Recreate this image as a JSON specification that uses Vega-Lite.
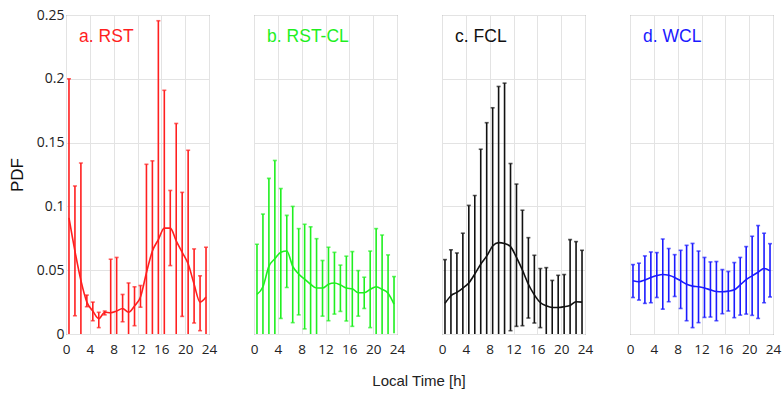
{
  "$schema": "https://vega.github.io/schema/vega-lite/v6.json",
  "padding": {"left": 8, "top": 8, "right": 5, "bottom": 5},
  "background": "white",
  "bounds": "flush",
  "data": {"values": [
    {"p":"a","lab":"a. RST","h":0.5,"m":0.091,"lo":0,"hi":0.2},
    {"p":"a","lab":"a. RST","h":1.5,"m":0.065,"lo":0.0143,"hi":0.116},
    {"p":"a","lab":"a. RST","h":2.5,"m":0.042,"lo":0,"hi":0.134},
    {"p":"a","lab":"a. RST","h":3.5,"m":0.025,"lo":0.0214,"hi":0.0305},
    {"p":"a","lab":"a. RST","h":4.5,"m":0.018,"lo":0.0104,"hi":0.025},
    {"p":"a","lab":"a. RST","h":5.5,"m":0.012,"lo":0.005,"hi":0.017},
    {"p":"a","lab":"a. RST","h":6.5,"m":0.017,"lo":0.015,"hi":0.018},
    {"p":"a","lab":"a. RST","h":7.5,"m":0.0167,"lo":0,"hi":0.0586},
    {"p":"a","lab":"a. RST","h":8.5,"m":0.018,"lo":0,"hi":0.06},
    {"p":"a","lab":"a. RST","h":9.5,"m":0.02,"lo":0.0096,"hi":0.031},
    {"p":"a","lab":"a. RST","h":10.5,"m":0.017,"lo":0,"hi":0.04},
    {"p":"a","lab":"a. RST","h":11.5,"m":0.022,"lo":0.0065,"hi":0.037},
    {"p":"a","lab":"a. RST","h":12.5,"m":0.029,"lo":0.021,"hi":0.038},
    {"p":"a","lab":"a. RST","h":13.5,"m":0.048,"lo":0,"hi":0.133},
    {"p":"a","lab":"a. RST","h":14.5,"m":0.065,"lo":0,"hi":0.1357},
    {"p":"a","lab":"a. RST","h":15.5,"m":0.074,"lo":0,"hi":0.2455},
    {"p":"a","lab":"a. RST","h":16.5,"m":0.083,"lo":0,"hi":0.191},
    {"p":"a","lab":"a. RST","h":17.5,"m":0.083,"lo":0.0536,"hi":0.1125},
    {"p":"a","lab":"a. RST","h":18.5,"m":0.073,"lo":0,"hi":0.165},
    {"p":"a","lab":"a. RST","h":19.5,"m":0.064,"lo":0.0138,"hi":0.111},
    {"p":"a","lab":"a. RST","h":20.5,"m":0.055,"lo":0,"hi":0.144},
    {"p":"a","lab":"a. RST","h":21.5,"m":0.039,"lo":0.0086,"hi":0.0667},
    {"p":"a","lab":"a. RST","h":22.5,"m":0.025,"lo":0.0026,"hi":0.0456},
    {"p":"a","lab":"a. RST","h":23.5,"m":0.029,"lo":0,"hi":0.068},

    {"p":"b","lab":"b. RST-CL","h":0.5,"m":0.031,"lo":0,"hi":0.0703},
    {"p":"b","lab":"b. RST-CL","h":1.5,"m":0.037,"lo":0,"hi":0.094},
    {"p":"b","lab":"b. RST-CL","h":2.5,"m":0.053,"lo":0,"hi":0.122},
    {"p":"b","lab":"b. RST-CL","h":3.5,"m":0.059,"lo":0,"hi":0.136},
    {"p":"b","lab":"b. RST-CL","h":4.5,"m":0.064,"lo":0.0122,"hi":0.114},
    {"p":"b","lab":"b. RST-CL","h":5.5,"m":0.065,"lo":0.0365,"hi":0.093},
    {"p":"b","lab":"b. RST-CL","h":6.5,"m":0.053,"lo":0.0089,"hi":0.1},
    {"p":"b","lab":"b. RST-CL","h":7.5,"m":0.047,"lo":0.015,"hi":0.0826},
    {"p":"b","lab":"b. RST-CL","h":8.5,"m":0.043,"lo":0.004,"hi":0.086},
    {"p":"b","lab":"b. RST-CL","h":9.5,"m":0.039,"lo":0,"hi":0.084},
    {"p":"b","lab":"b. RST-CL","h":10.5,"m":0.036,"lo":0,"hi":0.0747},
    {"p":"b","lab":"b. RST-CL","h":11.5,"m":0.036,"lo":0.014,"hi":0.0576},
    {"p":"b","lab":"b. RST-CL","h":12.5,"m":0.039,"lo":0.0104,"hi":0.068},
    {"p":"b","lab":"b. RST-CL","h":13.5,"m":0.04,"lo":0.0156,"hi":0.064},
    {"p":"b","lab":"b. RST-CL","h":14.5,"m":0.0385,"lo":0.0177,"hi":0.054},
    {"p":"b","lab":"b. RST-CL","h":15.5,"m":0.036,"lo":0.0102,"hi":0.061},
    {"p":"b","lab":"b. RST-CL","h":16.5,"m":0.0354,"lo":0.006,"hi":0.0646},
    {"p":"b","lab":"b. RST-CL","h":17.5,"m":0.0323,"lo":0.014,"hi":0.0497},
    {"p":"b","lab":"b. RST-CL","h":18.5,"m":0.0323,"lo":0.02,"hi":0.0445},
    {"p":"b","lab":"b. RST-CL","h":19.5,"m":0.035,"lo":0.005,"hi":0.065},
    {"p":"b","lab":"b. RST-CL","h":20.5,"m":0.037,"lo":0,"hi":0.0826},
    {"p":"b","lab":"b. RST-CL","h":21.5,"m":0.035,"lo":0,"hi":0.0776},
    {"p":"b","lab":"b. RST-CL","h":22.5,"m":0.032,"lo":0,"hi":0.062},
    {"p":"b","lab":"b. RST-CL","h":23.5,"m":0.0234,"lo":0.0005,"hi":0.045},

    {"p":"c","lab":"c. FCL","h":0.5,"m":0.024,"lo":0,"hi":0.0583},
    {"p":"c","lab":"c. FCL","h":1.5,"m":0.03,"lo":0,"hi":0.066},
    {"p":"c","lab":"c. FCL","h":2.5,"m":0.0326,"lo":0,"hi":0.0635},
    {"p":"c","lab":"c. FCL","h":3.5,"m":0.036,"lo":0,"hi":0.079},
    {"p":"c","lab":"c. FCL","h":4.5,"m":0.04,"lo":0,"hi":0.1008},
    {"p":"c","lab":"c. FCL","h":5.5,"m":0.047,"lo":0,"hi":0.1086},
    {"p":"c","lab":"c. FCL","h":6.5,"m":0.0547,"lo":0,"hi":0.1448},
    {"p":"c","lab":"c. FCL","h":7.5,"m":0.061,"lo":0,"hi":0.1656},
    {"p":"c","lab":"c. FCL","h":8.5,"m":0.069,"lo":0,"hi":0.1773},
    {"p":"c","lab":"c. FCL","h":9.5,"m":0.0716,"lo":0,"hi":0.194},
    {"p":"c","lab":"c. FCL","h":10.5,"m":0.071,"lo":0,"hi":0.1966},
    {"p":"c","lab":"c. FCL","h":11.5,"m":0.0685,"lo":0.0026,"hi":0.1336},
    {"p":"c","lab":"c. FCL","h":12.5,"m":0.06,"lo":0.006,"hi":0.1175},
    {"p":"c","lab":"c. FCL","h":13.5,"m":0.05,"lo":0.0065,"hi":0.097},
    {"p":"c","lab":"c. FCL","h":14.5,"m":0.039,"lo":0.0125,"hi":0.0755},
    {"p":"c","lab":"c. FCL","h":15.5,"m":0.0307,"lo":0.0086,"hi":0.0617},
    {"p":"c","lab":"c. FCL","h":16.5,"m":0.0247,"lo":0.005,"hi":0.0513},
    {"p":"c","lab":"c. FCL","h":17.5,"m":0.0221,"lo":0,"hi":0.052},
    {"p":"c","lab":"c. FCL","h":18.5,"m":0.0208,"lo":0,"hi":0.042},
    {"p":"c","lab":"c. FCL","h":19.5,"m":0.0208,"lo":0,"hi":0.046},
    {"p":"c","lab":"c. FCL","h":20.5,"m":0.0214,"lo":0,"hi":0.0466},
    {"p":"c","lab":"c. FCL","h":21.5,"m":0.0224,"lo":0,"hi":0.074},
    {"p":"c","lab":"c. FCL","h":22.5,"m":0.0253,"lo":0,"hi":0.0724},
    {"p":"c","lab":"c. FCL","h":23.5,"m":0.025,"lo":0,"hi":0.0656},

    {"p":"d","lab":"d. WCL","h":0.5,"m":0.0417,"lo":0.0286,"hi":0.0544},
    {"p":"d","lab":"d. WCL","h":1.5,"m":0.041,"lo":0.0266,"hi":0.0555},
    {"p":"d","lab":"d. WCL","h":2.5,"m":0.0424,"lo":0.024,"hi":0.0612},
    {"p":"d","lab":"d. WCL","h":3.5,"m":0.0443,"lo":0.0245,"hi":0.0643},
    {"p":"d","lab":"d. WCL","h":4.5,"m":0.0458,"lo":0.0286,"hi":0.0638},
    {"p":"d","lab":"d. WCL","h":5.5,"m":0.0466,"lo":0.0195,"hi":0.0745},
    {"p":"d","lab":"d. WCL","h":6.5,"m":0.046,"lo":0.0253,"hi":0.067},
    {"p":"d","lab":"d. WCL","h":7.5,"m":0.0443,"lo":0.0294,"hi":0.0622},
    {"p":"d","lab":"d. WCL","h":8.5,"m":0.0417,"lo":0.02,"hi":0.0656},
    {"p":"d","lab":"d. WCL","h":9.5,"m":0.039,"lo":0.0104,"hi":0.0695},
    {"p":"d","lab":"d. WCL","h":10.5,"m":0.0375,"lo":0.005,"hi":0.071},
    {"p":"d","lab":"d. WCL","h":11.5,"m":0.037,"lo":0.0089,"hi":0.065},
    {"p":"d","lab":"d. WCL","h":12.5,"m":0.036,"lo":0.013,"hi":0.06},
    {"p":"d","lab":"d. WCL","h":13.5,"m":0.0346,"lo":0.0133,"hi":0.0565},
    {"p":"d","lab":"d. WCL","h":14.5,"m":0.0333,"lo":0.0104,"hi":0.0568},
    {"p":"d","lab":"d. WCL","h":15.5,"m":0.0331,"lo":0.0159,"hi":0.0505},
    {"p":"d","lab":"d. WCL","h":16.5,"m":0.0336,"lo":0.018,"hi":0.049},
    {"p":"d","lab":"d. WCL","h":17.5,"m":0.0346,"lo":0.0128,"hi":0.056},
    {"p":"d","lab":"d. WCL","h":18.5,"m":0.0385,"lo":0.0148,"hi":0.06},
    {"p":"d","lab":"d. WCL","h":19.5,"m":0.0427,"lo":0.0156,"hi":0.0685},
    {"p":"d","lab":"d. WCL","h":20.5,"m":0.0456,"lo":0.0146,"hi":0.0766},
    {"p":"d","lab":"d. WCL","h":21.5,"m":0.0484,"lo":0.0122,"hi":0.085},
    {"p":"d","lab":"d. WCL","h":22.5,"m":0.0513,"lo":0.0245,"hi":0.079},
    {"p":"d","lab":"d. WCL","h":23.5,"m":0.0495,"lo":0.029,"hi":0.0708}
  ]},
  "facet": {
    "column": {
      "field": "p",
      "type": "nominal",
      "header": {
        "labels": false,
        "title": "Local Time [h]",
        "titleOrient": "bottom",
        "titleFontSize": 15,
        "titleFontWeight": "normal",
        "titleFont": "Liberation Sans",
        "titleColor": "#222",
        "titlePadding": 8
      }
    }
  },
  "spacing": {"column": 45},
  "spec": {
    "width": 143,
    "height": 319,
    "encoding": {
      "x": {"field": "h", "type": "quantitative",
            "scale": {"domain": [0, 24], "nice": false},
            "axis": {"values": [0,4,8,12,16,20,24], "title": null, "labelOverlap": false, "labelFlush": false, "labelFontSize": 13.5}},
      "color": {"field": "p", "type": "nominal", "legend": null,
                "scale": {"domain": ["a","b","c","d"], "range": ["#ff1f1f","#1fef1f","#111111","#1a1aff"]}}
    },
    "layer": [
      {
        "mark": {"type": "rule", "strokeWidth": 1.6, "clip": true},
        "encoding": {
          "y": {"field": "lo", "type": "quantitative",
                "scale": {"domain": [0, 0.25], "nice": false},
                "axis": {"values": [0,0.05,0.1,0.15,0.2,0.25], "title": "PDF", "format": "~g"}},
          "y2": {"field": "hi"}
        }
      },
      {
        "mark": {"type": "tick", "orient": "horizontal", "size": 4, "thickness": 1.6, "clip": true},
        "encoding": {
          "y": {"field": "hi", "type": "quantitative"}
        }
      },
      {
        "mark": {"type": "tick", "orient": "horizontal", "size": 4, "thickness": 1.6, "clip": true},
        "transform": [{"filter": "datum.lo > 0.001"}],
        "encoding": {
          "y": {"field": "lo", "type": "quantitative"}
        }
      },
      {
        "mark": {"type": "line", "strokeWidth": 1.6, "interpolate": "monotone"},
        "encoding": {
          "y": {"field": "m", "type": "quantitative"}
        }
      },
      {
        "mark": {"type": "text", "align": "left", "baseline": "middle", "fontSize": 17.5, "font": "Liberation Sans"},
        "transform": [{"filter": "datum.h == 0.5"}],
        "encoding": {
          "x": {"datum": 2.2},
          "y": {"datum": 0.233},
          "text": {"field": "lab"}
        }
      }
    ]
  },
  "config": {
    "view": {"stroke": "#808080", "strokeWidth": 1},
    "axis": {
      "domain": false,
      "grid": true,
      "gridColor": "#e3e3e3",
      "gridWidth": 1,
      "tickColor": "#808080",
      "tickSize": -4,
      "labelFont": "Open Sans",
      "labelFontSize": 14,
      "labelColor": "#222",
      "labelOverlap": false,
      "titleFont": "Liberation Sans",
      "titleFontSize": 17,
      "titleFontWeight": "normal",
      "titleColor": "#111"
    },
    "axisX": {"labelPadding": 12, "labelOverlap": false, "labelFlush": false},
    "axisY": {"labelPadding": 6, "titlePadding": 10}
  }
}
